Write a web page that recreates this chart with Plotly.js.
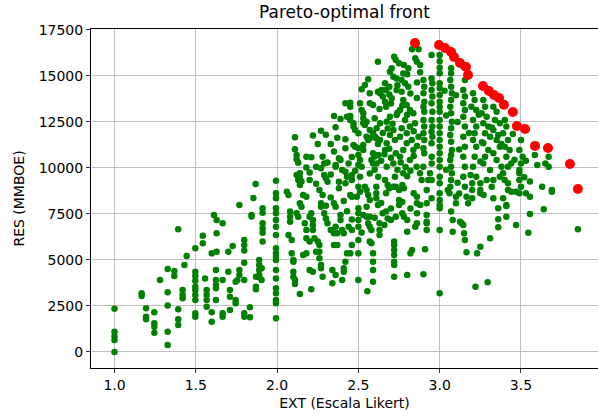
<!DOCTYPE html>
<html>
<head>
<meta charset="utf-8">
<script src="https://cdn.plot.ly/plotly-3.0.1.min.js"></script>
<style>html,body{margin:0;padding:0;background:#fff;}#chart{width:598px;height:420px;}</style>
</head>
<body>
<div id="chart"></div>
<script>
// Pareto-optimal (red) points
const paretoX = [2.848, 2.996, 3.033, 3.07, 3.088, 3.125, 3.162, 3.174, 3.266, 3.303, 3.334, 3.365, 3.395, 3.45, 3.475, 3.525, 3.586, 3.666, 3.801, 3.85];
const paretoY = [16790, 16685, 16520, 16300, 16030, 15710, 15490, 15050, 14460, 14180, 13970, 13800, 13440, 13040, 12280, 12120, 11200, 11090, 10220, 8860];

// Green points, low EXT region: [x, y]
const greenLow = [
[1.0,2350],[1.0,1100],[1.0,850],[1.0,650],[1.0,0],
[1.167,3190],[1.167,3040],[1.194,2375],[1.194,1920],[1.194,1780],
[1.245,2160],[1.245,1560],[1.245,1375],[1.245,1050],[1.28,3910],
[1.327,4510],[1.327,3245],[1.327,2520],[1.327,1100],[1.327,380],
[1.368,4400],[1.368,4130],[1.392,6670],[1.392,2320],[1.392,1780],[1.392,1470],
[1.419,3370],[1.419,3100],[1.419,2920],[1.43,4730],[1.444,5220],
[1.497,5640],[1.497,4365],[1.497,4130],[1.497,3875],[1.497,3550],[1.497,3370],[1.497,3100],[1.497,2830],[1.497,2100],[1.497,1920],
[1.543,6320],[1.543,5910],[1.557,4000],[1.567,3370],[1.567,3100],[1.567,2830],[1.567,2460],
[1.598,5360],[1.598,2160],[1.598,1650],[1.612,7450],[1.628,7170],[1.665,7000],[1.628,6450],[1.628,5450],
[1.624,4460],[1.624,3910],[1.624,3640],[1.624,3460],[1.624,2830],[1.665,3910],[1.665,2100],[1.665,1920],
[1.7,5450],[1.727,5760],[1.7,4365],[1.71,3370],[1.71,3000],[1.71,2280],
[1.745,3820],[1.745,2830],[1.745,2650],[1.755,3900],[1.768,7990],[1.768,4460],[1.768,4180],
[1.798,6090],[1.798,5820],[1.798,5510],[1.798,4850],[1.798,3910],[1.798,2100],[1.798,1920],
[1.833,2430],[1.833,1890],[1.854,8370],[1.843,7360],[1.843,7450],
[1.89,5000],[1.89,4730],[1.89,4460],[1.89,4180],[1.89,4060],[1.87,4090],[1.87,3550],[1.87,3410],
[1.911,7810],[1.911,7570],[1.911,7000],[1.911,6720],[1.911,6480],[1.911,6000],[1.905,4550],[1.905,3910],
[1.993,8625],[1.993,8350],[1.993,7810],[1.993,7540],[1.993,7170],[1.993,6810],[1.993,6360],[1.993,5640],[1.993,5360],
[1.993,5180],[1.993,5000],[1.993,4460],[1.993,4000],[1.993,3460],[1.993,3190],[1.993,2830],[1.993,2650],[1.993,1830],
[1.868,9130],[1.993,9310],[2.06,8710]
];

// Green points, middle band (y below ~9000)
const greenMid = [
[2.07,8530],[2.08,7630],[2.08,7350],[2.08,7080],[2.07,6360],[2.09,6090],[2.09,5360],[2.1,5000],[2.1,4910],
[2.1,4365],[2.1,4090],[2.11,3910],[2.11,3700],[2.14,3150],[2.12,7540],[2.13,7350],[2.14,8080],[2.15,7900],
[2.16,8530],[2.18,8440],[2.17,7000],[2.18,6630],[2.18,6180],[2.2,6000],[2.16,5270],[2.18,5360],
[2.2,4460],[2.22,4365],[2.21,3410],[2.21,7540],[2.22,7170],[2.2,7350],[2.22,6900],[2.22,6630],
[2.23,6180],[2.25,6000],[2.26,5820],[2.24,5450],[2.26,5450],[2.26,5090],[2.27,4730],[2.27,4550],[2.28,4090],
[2.27,8080],[2.27,7900],[2.28,8530],[2.29,7540],[2.3,7260],[2.31,7000],[2.33,6630],[2.34,4460],[2.34,3730],
[2.35,8080],[2.36,7900],[2.36,6810],[2.35,6450],[2.37,6450],[2.35,5820],[2.37,5820],[2.36,4180],[2.38,8900],
[2.39,7450],[2.39,7170],[2.4,6630],[2.41,6450],[2.4,3910],[2.42,4910],[2.41,4550],[2.41,4365],
[2.45,8530],[2.46,8440],[2.44,6810],[2.46,6630],[2.45,5360],[2.43,5360],[2.46,5820],
[2.5,7810],[2.5,7540],[2.5,7170],[2.5,6810],[2.5,6090],[2.5,5360],[2.5,3910],[2.5,8980],[2.51,8710],[2.49,8440],
[2.54,8980],[2.55,8800],[2.56,8530],[2.57,8260],[2.555,3300],[2.53,7450],[2.55,7350],[2.57,7350],
[2.56,7000],[2.57,6810],[2.58,6630],[2.59,5360],[2.59,4910],[2.59,4460],[2.59,3820],[2.57,6000],[2.58,5910],
[2.61,8980],[2.61,8625],[2.61,8350],[2.62,7990],[2.63,7000],[2.63,6630],[2.63,6360],[2.65,7540],[2.67,7630],
[2.68,9080],[2.69,8900],[2.67,8625],[2.68,7260],[2.7,7170],
[2.72,6000],[2.72,5820],[2.72,5540],[2.72,5270],[2.72,4910],[2.72,4730],[2.72,4090],
[2.73,8980],[2.75,8800],[2.77,9080],[2.78,8900],[2.75,8260],[2.75,7990],[2.73,7350],[2.77,7540],[2.78,7350],
[2.8,7170],[2.8,6540],[2.8,4180],[2.82,5360],[2.83,5540],[2.84,8625],[2.86,8440],[2.86,8080],[2.86,7540],[2.86,7000],
[2.9,4220],[2.91,5580],[2.92,6630],[2.92,7450],[2.92,7000],[2.88,7990],[2.92,8080],[2.92,7080],[2.95,8350],
[3.0,6630],[3.0,3190],[3.0,8625],[3.0,8260],[3.0,7990],[3.0,7810],[3.07,7630],[3.08,7170],[3.08,6540],
[3.125,7080],[3.135,7000],[3.145,6900],[3.15,6450],[3.155,6090],[3.165,5420],[3.23,5360],[3.25,5720],
[3.22,3550],[3.295,3790],[3.31,6180],[3.36,7810],[3.36,7210],[3.36,6780],[3.41,7940],[3.41,7350],[3.47,6900],
[3.545,6480],[3.555,7500],[3.64,7760],[3.85,6670],
[3.06,8625],[3.1,8440],[3.1,8080],[3.12,8620],[3.165,8440],[3.175,8080],[3.2,8350],[3.25,8625],[3.27,8530],
[3.33,8350],[3.39,8350],[3.41,7990],[3.44,8710],[3.47,8710],[3.53,8625],[3.555,8440],[3.69,8710],
[2.64,8100],[2.7,7800],[2.77,8150],[2.82,7800],[2.85,6800],[2.66,6900],[2.6,7300],[2.55,7900],[2.52,6500],
[2.46,7200],[2.43,7650],[2.41,8200],[2.33,8400],[2.3,7950]
];

// Green points, upper-left cloud (EXT about 2.1 to 2.7)
const greenHigh = [
[2.11,11670],[2.11,11020],[2.12,10710],[2.12,10470],[2.13,10290],[2.12,9620],[2.13,9350],[2.15,9260],[2.14,9080],
[2.14,9710],[2.14,9440],[2.18,10610],[2.21,10580],[2.18,10020],[2.2,9750],[2.2,9350],[2.22,11760],[2.24,10070],
[2.27,12030],[2.28,10610],[2.29,10250],[2.27,9980],[2.29,9620],[2.3,9440],[2.35,12830],[2.36,12210],
[2.35,10890],[2.36,10160],[2.36,10070],[2.38,10530],[2.39,12660],[2.39,10430],[2.42,13520],[2.45,13550],[2.45,13330],
[2.45,12830],[2.43,12790],[2.45,12610],[2.47,12430],[2.42,11560],[2.42,11070],[2.4,9890],[2.42,9800],[2.43,9530],[2.42,9170],
[2.46,9620],[2.46,9350],[2.47,12250],[2.48,12070],[2.5,11890],[2.47,11250],[2.48,11160],[2.5,11070],
[2.5,10710],[2.51,10430],[2.5,10160],[2.52,10070],[2.51,9530],[2.52,14280],[2.54,14510],[2.56,14820],
[2.51,13520],[2.52,13150],[2.53,12970],[2.53,12700],[2.53,12430],[2.55,12520],[2.54,12340],
[2.55,11700],[2.57,11610],[2.56,11520],[2.57,13520],[2.59,13420],[2.57,14060],[2.62,15780],[2.62,14150],
[2.57,12070],[2.59,11890],[2.61,11610],[2.59,10800],[2.6,10620],[2.58,10430],[2.59,10250],[2.53,11250],[2.53,10980],
[2.69,14420],[2.67,14240],[2.65,13880],[2.67,13330],
[2.24,9150],[2.26,8800],[2.31,9250],[2.33,9650],[2.31,10300],[2.33,11300],[2.37,11650],[2.38,9250],
[2.44,10250],[2.46,10600],[2.48,9850],[2.3,11800],[2.25,11300]
];

// Green points, dense core near the front (EXT about 2.6 to 3.7)
const greenCore = [
[2.83,16450],[2.87,16450],[2.72,16050],[2.73,15870],[2.75,15690],[2.78,15600],[2.85,15960],[2.86,15780],[2.88,15600],
[2.95,16140],
[2.715,14960],[2.735,14870],[2.766,14780],[2.787,14600],[2.807,14420],[2.735,14240],[2.766,14150],[2.705,13790],
[2.664,13600],[2.643,14240],[2.633,14060],[2.664,14600],[2.694,15230],[2.705,15420],[2.776,15140],[2.807,15420],
[2.776,13700],[2.797,13420],[2.817,13150],[2.838,12970],[2.756,13150],[2.735,12880],[2.694,12790],[2.674,12520],
[2.633,12430],[2.612,12160],[2.602,11700],[2.633,11520],[2.674,11340],[2.725,11520],[2.756,11700],[2.797,11890],
[2.817,12250],[2.848,12430],[2.787,12610],[2.766,12160],[2.715,12070],[2.694,11790],[2.664,10980],[2.622,10710],
[2.612,10250],[2.674,10070],[2.715,10250],[2.756,10610],[2.776,10980],[2.797,11340],[2.828,11520],[2.838,10980],
[2.817,10430],[2.776,9710],[2.725,9530],[2.664,9350],[2.622,9530],[2.858,10070],[2.879,9710],[2.899,10070],
[2.889,9350],[2.951,10610],[2.951,10250],[2.94,9710],[2.951,9350],[2.715,8980],[2.93,9350],[2.92,8800],
[2.57,9700],[2.6,9900],[2.64,10400],[2.66,10750],[2.69,11050],[2.7,10550],[2.73,10800],[2.74,9900],[2.76,10300],
[2.79,10050],[2.8,9550],[2.82,9850],[2.84,10650],[2.86,11200],[2.87,11700],[2.84,12000],[2.8,12900],[2.77,13400],
[2.74,13000],[2.71,12400],[2.68,12150],[2.65,11900],[2.62,11300],[2.6,12700],[2.63,13200],[2.7,13500],[2.86,13800],
[2.82,14050],[2.86,14650],[2.88,15200],[2.8,15100],[2.74,14500],[2.69,14000],
[2.9,14780],[2.905,14420],[2.9,14060],[2.905,13600],[2.9,13330],[2.905,13060],[2.9,12610],[2.905,12250],[2.9,11890],
[2.905,11520],[2.9,11070],[2.905,10800],
[2.95,14870],[2.955,14600],[2.95,14240],[2.955,13880],[2.95,13520],[2.955,13060],[2.95,12610],[2.955,12250],
[2.95,11970],[2.955,11700],[2.95,11340],
[3.0,16140],[3.0,15800],[3.0,15450],[3.0,15150],[3.0,14600],[3.0,14330],[3.0,13970],[3.0,13600],[3.0,13330],
[3.0,13060],[3.0,12610],[3.0,12250],[3.0,11890],[3.0,11520],[3.0,11160],[3.0,10800],[3.0,10430],[3.0,10070],
[3.0,9530],[3.0,9170],
[3.07,15420],[3.07,15140],[3.065,14780],[3.07,14420],[3.075,14060],[3.07,13700],[3.065,13330],[3.07,12970],
[3.075,12520],[3.07,12160],[3.065,11790],[3.07,11430],[3.075,10980],[3.07,10710],[3.065,10430],[3.07,10070],
[3.075,9710],[3.07,9350],[3.065,8980],[3.05,8800],
[3.145,15510],[3.155,14780],[3.145,14240],[3.155,13880],[3.145,13520],[3.155,13150],[3.145,12790],[3.155,12250],
[3.145,11700],[3.155,11160],[3.145,10610],[3.155,10070],[3.145,9530],[3.155,8980],
[3.205,14060],[3.215,13700],[3.195,13330],[3.225,13150],[3.205,12610],[3.225,12250],[3.215,11890],[3.205,11520],
[3.225,11160],[3.215,10610],[3.205,10070],[3.225,9530],[3.19,9620],[3.2,9170],[3.2,8800],
[3.268,13700],[3.279,13330],[3.258,12970],[3.289,12790],[3.268,12430],[3.299,12250],[3.279,11890],[3.31,11700],
[3.268,11340],[3.299,10980],[3.279,10610],[3.268,10250],[3.31,9890],[3.289,9350],[3.25,9170],[3.25,8800],[3.32,8980],
[3.33,13330],[3.35,13060],[3.34,12610],[3.37,12430],[3.33,12070],[3.36,11790],[3.35,11520],[3.37,11160],
[3.33,10800],[3.35,10430],[3.38,10070],[3.37,9530],[3.33,9350],
[3.40,12610],[3.41,12250],[3.39,11890],[3.42,11520],[3.40,11160],[3.43,10980],[3.41,10610],[3.44,10250],
[3.42,10070],[3.39,9710],[3.40,9350],[3.42,9170],[3.42,8800],
[3.5,11520],[3.49,10980],[3.51,10610],[3.5,10250],[3.49,9890],[3.5,8980],[3.49,9710],[3.49,9350],[3.49,8625],
[3.555,9260],[3.585,10710],[3.6,10160],[3.63,8980],[3.67,10610],[3.67,10070],[3.65,10250],[3.69,8800],
[3.03,14200],[3.04,12850],[3.1,13950],[3.11,12500],[3.12,11000],[3.18,11900],[3.24,12900],[3.26,11400],
[3.25,10350],[3.32,12200],[3.38,11300],[3.45,11850],[3.46,10450],[3.53,10400],[3.52,9500],[3.04,9900],[3.11,9200]
];

const allGreen = greenLow.concat(greenMid, greenHigh, greenCore);
const greenX = allGreen.map(p => p[0]);
const greenY = allGreen.map(p => p[1]);

const font = 'DejaVu Sans, sans-serif';
const traces = [
  {x: greenX, y: greenY, type: 'scatter', mode: 'markers',
   marker: {color: '#008000', size: 6.5, line: {width: 0}}, hoverinfo: 'skip'},
  {x: paretoX, y: paretoY, type: 'scatter', mode: 'markers',
   marker: {color: '#ff0000', size: 10, line: {width: 0}}, hoverinfo: 'skip'}
];

const axisCommon = {
  showgrid: true, gridcolor: '#b0b0b0', gridwidth: 0.8,
  showline: true, mirror: true, linecolor: '#000', linewidth: 1,
  ticks: 'outside', ticklen: 4, tickwidth: 0.8, tickcolor: '#000',
  zeroline: false, tickfont: {family: font, size: 14, color: '#000'}
};

const layout = {
  width: 598, height: 420,
  margin: {l: 91, r: 0, t: 29, b: 52, pad: 0},
  paper_bgcolor: '#fff', plot_bgcolor: '#fff',
  showlegend: false,
  title: {text: 'Pareto-optimal front', font: {family: font, size: 17, color: '#000'},
          x: 0.5, xref: 'paper', xanchor: 'center', y: 0.972, yref: 'container', yanchor: 'middle'},
  xaxis: Object.assign({}, axisCommon, {
    range: [0.8555, 3.9736], tick0: 1, dtick: 0.5, tickformat: '.1f',
    title: {text: 'EXT (Escala Likert)', font: {family: font, size: 14, color: '#000'}, standoff: 6}
  }),
  yaxis: Object.assign({}, axisCommon, {
    range: [-870, 17554], tick0: 0, dtick: 2500, tickformat: 'd',
    title: {text: 'RES (MMBOE)', font: {family: font, size: 14, color: '#000'}, standoff: 10}
  })
};

Plotly.newPlot('chart', traces, layout, {staticPlot: true, displayModeBar: false});
</script>
</body>
</html>
